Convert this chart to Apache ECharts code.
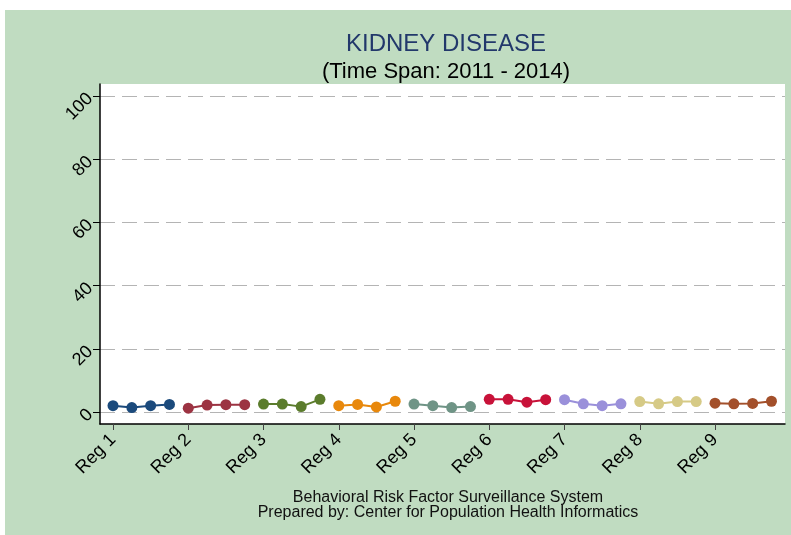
<!DOCTYPE html>
<html>
<head>
<meta charset="utf-8">
<script src="https://cdn.jsdelivr.net/npm/echarts@6/dist/echarts.min.js"></script>
<style>
  html, body { margin: 0; padding: 0; background: #ffffff; }
  #chart { width: 791px; height: 535px; }
</style>
</head>
<body>
<div id="chart"></div>
<script>
// regions and years
const regions = ['Reg 1', 'Reg 2', 'Reg 3', 'Reg 4', 'Reg 5', 'Reg 6', 'Reg 7', 'Reg 8', 'Reg 9'];
const years = [2011, 2012, 2013, 2014];
const yearOffset = [0, 0.25, 0.5, 0.75];
const yTicks = [0, 20, 40, 60, 80, 100];

// prevalence (%) per region, 2011 - 2014
const reg1 = [2.0, 1.4, 2.0, 2.4];
const reg2 = [1.2, 2.2, 2.3, 2.3];
const reg3 = [2.5, 2.5, 1.7, 4.0];
const reg4 = [2.0, 2.4, 1.6, 3.4];
const reg5 = [2.5, 2.0, 1.4, 1.7];
const reg6 = [4.0, 4.0, 3.1, 3.9];
const reg7 = [3.9, 2.6, 2.0, 2.6];
const reg8 = [3.3, 2.6, 3.3, 3.3];
const reg9 = [2.8, 2.6, 2.7, 3.4];
const values = [reg1, reg2, reg3, reg4, reg5, reg6, reg7, reg8, reg9];

const colors = ['#1b4a7c', '#9c3342', '#5b7c2c', '#e8880c', '#6f9486',
                '#c81239', '#9a90da', '#d6ca86', '#a3502b'];

const FONT = 'Liberation Sans, Arial, sans-serif';

const chart = echarts.init(document.getElementById('chart'));

const series = regions.map((name, i) => ({
  name: name,
  type: 'line',
  data: values[i].map((v, j) => [i + 1 + yearOffset[j], v]),
  symbol: 'circle',
  symbolSize: 11,
  lineStyle: { color: colors[i], width: 2 },
  itemStyle: { color: colors[i] },
  z: 5
}));

const option = {
  animation: false,
  textStyle: { fontFamily: FONT },
  graphic: [
    {
      type: 'rect',
      z: -10,
      silent: true,
      shape: { x: 5, y: 10, width: 786, height: 525 },
      style: { fill: '#c0dcc1' }
    },
    {
      type: 'rect',
      z: -5,
      silent: true,
      shape: { x: 100, y: 84, width: 685, height: 340 },
      style: { fill: '#ffffff' }
    },
    {
      type: 'text',
      x: 448,
      y: 490,
      style: {
        text: 'Behavioral Risk Factor Surveillance System\nPrepared by: Center for Population Health Informatics',
        fill: '#111111',
        font: '16px ' + FONT,
        align: 'center',
        verticalAlign: 'top',
        lineHeight: 15
      }
    }
  ],
  title: {
    text: 'KIDNEY DISEASE',
    subtext: '(Time Span: 2011 - 2014)',
    left: 441,
    textAlign: 'center',
    top: 27,
    itemGap: 5,
    textStyle: { color: '#22386b', fontSize: 24, fontWeight: 'normal', fontFamily: FONT },
    subtextStyle: { color: '#000000', fontSize: 22, fontFamily: FONT }
  },
  grid: { left: 100, top: 84, right: 6, bottom: 111, containLabel: false },
  xAxis: {
    type: 'value',
    min: 0.827,
    max: 9.93,
    axisLine: { show: true, onZero: false, lineStyle: { color: '#000000', width: 1.5 } },
    axisTick: {
      show: true,
      length: 6,
      customValues: [1, 2, 3, 4, 5, 6, 7, 8, 9],
      lineStyle: { color: '#444444' }
    },
    axisLabel: {
      customValues: [1, 2, 3, 4, 5, 6, 7, 8, 9],
      formatter: v => regions[Math.round(v) - 1],
      rotate: 45,
      color: '#000000',
      fontSize: 18,
      margin: 13
    },
    splitLine: { show: false }
  },
  yAxis: {
    type: 'value',
    min: -3.8,
    max: 103.8,
    axisLine: { show: true, lineStyle: { color: '#000000', width: 1.5 } },
    axisTick: {
      show: true,
      length: 7,
      customValues: yTicks,
      lineStyle: { color: '#000000' }
    },
    axisLabel: {
      customValues: yTicks,
      rotate: 45,
      color: '#000000',
      fontSize: 18,
      margin: 10
    },
    splitLine: {
      show: true,
      lineStyle: { color: '#b4b4b4', type: [15, 7], width: 1.2 }
    }
  },
  series: series
};

chart.setOption(option);
</script>
</body>
</html>
